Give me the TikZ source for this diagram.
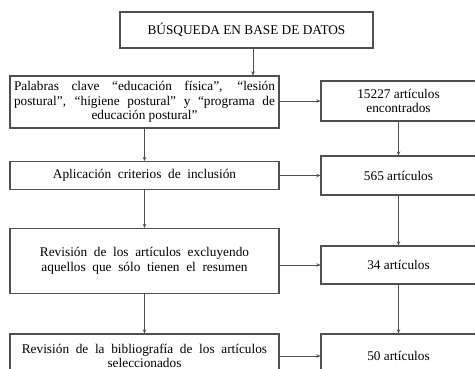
\documentclass[tikz,border=0pt]{standalone}
\usepackage{fontspec}
\setmainfont{Liberation Serif}
\usepackage{xcolor}
\usepackage{tikz}
\usetikzlibrary{arrows.meta,positioning}

\definecolor{linegray}{HTML}{505050}

\begin{document}
\begin{tikzpicture}[
  x=1pt, y=-1pt,
  box/.style={rectangle, draw=linegray, line width=1.2pt, inner sep=0pt,
    font=\fontsize{13.3}{14.6}\selectfont, align=center},
  fullbox/.style={box, align=none, text width=261pt,
    execute at begin node={\leftskip=0pt plus 1fil\rightskip=0pt plus -1fil\parfillskip=0pt plus 2fil}},
  arr/.style={draw=linegray, line width=0.7pt, -{Stealth[length=4pt,width=3.6pt]}}
]
  \useasboundingbox (0,0) rectangle (475,369);
  \clip (0,0) rectangle (475,369);

  % left column
  \node[box, minimum width=253, minimum height=36] (busq) at (246.5,30) {B\'USQUEDA EN BASE DE DATOS};
  \node[fullbox, minimum width=269, minimum height=52] (pal) at (144.5,102)
    {Palabras clave ``educaci\'on f\'isica'', ``lesi\'on\linebreak postural'', ``higiene postural'' y ``programa de\linebreak educaci\'on postural''};
  \node[box, minimum width=269, minimum height=28] (apl) at (144.5,175.5) {Aplicaci\'on\ \ criterios\ \ de\ \ inclusi\'on};
  \node[box, minimum width=269, minimum height=65] (rev) at (144.5,261)
    {Revisi\'on\ \ de\ \ los\ \ art\'iculos\ \ excluyendo\\ aquellos\ \ que\ \ s\'olo\ \ tienen\ \ el\ \ resumen};
  \node[box, minimum width=269, minimum height=44, font=\fontsize{13.3}{14}\selectfont] (bib) at (144.5,356)
    {Revisi\'on\ \ de\ \ la\ \ bibliograf\'ia\ \ de\ \ los\ \ art\'iculos\\ seleccionados};

  % right column
  \node[box, minimum width=155, minimum height=40] (enc) at (398.5,101) {15227 art\'iculos\\ encontrados};
  \node[box, minimum width=155, minimum height=39] (a565) at (398.5,175.5) {565 art\'iculos};
  \node[box, minimum width=155, minimum height=38] (a34) at (398.5,265) {34 art\'iculos};
  \node[box, minimum width=155, minimum height=44] (a50) at (398.5,356) {50 art\'iculos};

  \coordinate (drop) at (253,0);

  \draw[arr] (busq.south -| drop) -- (pal.north -| drop);
  \draw[arr] (pal.south) -- (apl.north);
  \draw[arr] (apl.south) -- (rev.north);
  \draw[arr] (rev.south) -- (bib.north);

  \draw[arr] (enc.south) -- (a565.north);
  \draw[arr] (a565.south) -- (a34.north);
  \draw[arr] (a34.south) -- (a50.north);

  \draw[arr] (pal.east |- enc.west) -- (enc.west);
  \draw[arr] (apl.east) -- (a565.west);
  \draw[arr] (rev.east |- a34.west) -- (a34.west);
  \draw[arr] (bib.east |- a50.west) -- (a50.west);
\end{tikzpicture}
\end{document}
